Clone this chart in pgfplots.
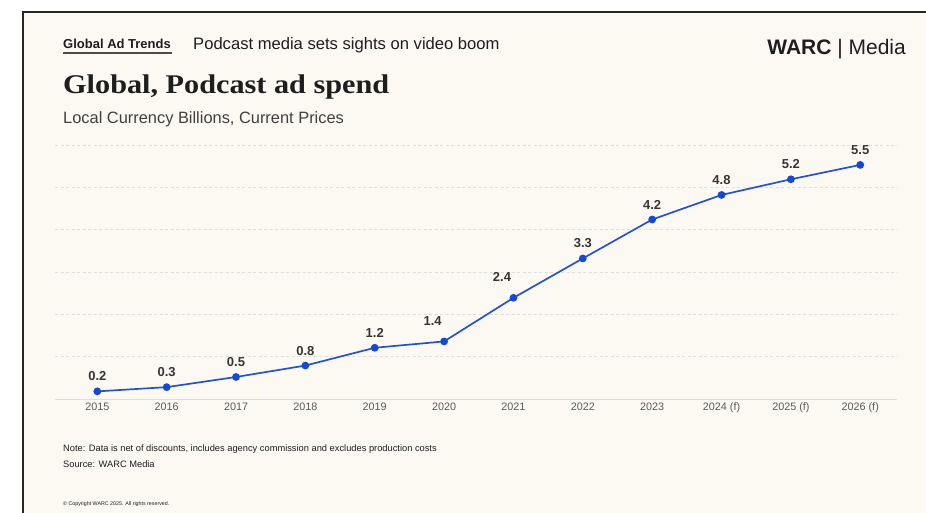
\documentclass[border=0pt]{standalone}
\usepackage{pgfplots}
\pgfplotsset{compat=1.18}
\usepackage{fontspec}
\setmainfont{Liberation Sans}
\newfontfamily\titlefont[FakeStretch=1.12]{Liberation Serif}
\definecolor{bg}{RGB}{252,249,243}
\definecolor{txt}{RGB}{30,30,30}
\definecolor{tick}{RGB}{90,90,90}
\definecolor{gridc}{RGB}{222,222,220}
\definecolor{lineblue}{RGB}{40,82,200}
\definecolor{markblue}{RGB}{22,72,210}
\pgfplotstableread{
x y
0 0.18
1 0.28
2 0.52
3 0.79
4 1.21
5 1.36
6 2.39
7 3.32
8 4.24
9 4.82
10 5.19
11 5.53
}\spend
\pgfplotstableread{
x y lab
0 0.18 0.2
1 0.28 0.3
2 0.52 0.5
3 0.79 0.8
4 1.21 1.2
7 3.32 3.3
8 4.24 4.2
9 4.82 4.8
10 5.19 5.2
11 5.53 5.5
}\labsA
\pgfplotstableread{
x y lab
5 1.36 1.4
6 2.39 2.4
}\labsB
\begin{document}
\begin{tikzpicture}[x=1pt,y=1pt]
\useasboundingbox (0,0) rectangle (926,513);
\fill[white] (0,0) rectangle (926,513);
\fill[bg] (23,0) rectangle (926,501);
\draw[line width=1.4pt, black!85] (23,0) -- (23,501) -- (926,501);
% header
\node[anchor=base west, inner sep=0pt, text=txt, font=\fontsize{13}{15}\selectfont\bfseries] at (63,464) {Global Ad Trends};
\draw[line width=1.3pt, black!70] (63,460) -- (172,460);
\node[anchor=base west, inner sep=0pt, text=txt, font=\fontsize{16.6}{19}\selectfont] at (193,463.7) {Podcast media sets sights on video boom};
\node[anchor=base east, inner sep=0pt, text=txt, font=\fontsize{21}{24}\selectfont] at (906,458.7) {\textbf{WARC} | Media};
\node[anchor=base west, inner sep=0pt, text=txt, font=\fontsize{27}{31}\selectfont\titlefont\bfseries] at (63,419.5) {Global, Podcast ad spend};
\node[anchor=base west, inner sep=0pt, text=txt!85, font=\fontsize{16.4}{19}\selectfont] at (63,389.7) {Local Currency Billions, Current Prices};
% notes
\node[anchor=base west, inner sep=0pt, text=txt, font=\fontsize{9.3}{11}\selectfont] at (63,61.5) {Note: Data is net of discounts, includes agency commission and excludes production costs};
\node[anchor=base west, inner sep=0pt, text=txt, font=\fontsize{9.3}{11}\selectfont] at (63,45) {Source: WARC Media};
\node[anchor=base west, inner sep=0pt, text=txt, font=\fontsize{5.3}{6}\selectfont] at (63,7.5) {\textcopyright{} Copyright WARC 2025. All rights reserved.};
\begin{axis}[
  at={(55pt,114pt)}, anchor=south west,
  scale only axis, width=842pt, height=254pt,
  xmin=-0.61, xmax=11.53, ymin=0, ymax=6,
  axis line style={draw=none},
  tick style={draw=none},
  ytick={1,2,3,4,5,6}, yticklabels={},
  ymajorgrids,
  grid style={gridc, line width=0.8pt, dash pattern=on 3pt off 2.5pt},
  extra y ticks={0}, extra y tick labels={},
  extra y tick style={grid style={gridc, line width=0.9pt, solid}},
  xtick={0,...,11},
  xticklabels={2015,2016,2017,2018,2019,2020,2021,2022,2023,2024 (f),2025 (f),2026 (f)},
  xticklabel style={anchor=base, inner sep=0pt, yshift=-12pt, text=tick, font=\fontsize{10.8}{12}\selectfont},
  clip=false,
]
\addplot[lineblue, line width=1.7pt, mark=*, mark size=3pt, mark options={fill=markblue, draw=markblue}] table[x=x,y=y] {\spend};
\addplot[draw=none, mark=none, point meta=explicit symbolic,
  nodes near coords,
  every node near coord/.append style={anchor=base, inner sep=0pt, yshift=10.5pt, text=txt!90, font=\fontsize{13}{15}\selectfont\bfseries}]
  table[x=x,y=y,meta=lab] {\labsA};
\addplot[draw=none, mark=none, point meta=explicit symbolic,
  nodes near coords,
  every node near coord/.append style={anchor=base, inner sep=0pt, yshift=16pt, xshift=-11.5pt, text=txt!90, font=\fontsize{13}{15}\selectfont\bfseries}]
  table[x=x,y=y,meta=lab] {\labsB};
\end{axis}
\end{tikzpicture}
\end{document}
